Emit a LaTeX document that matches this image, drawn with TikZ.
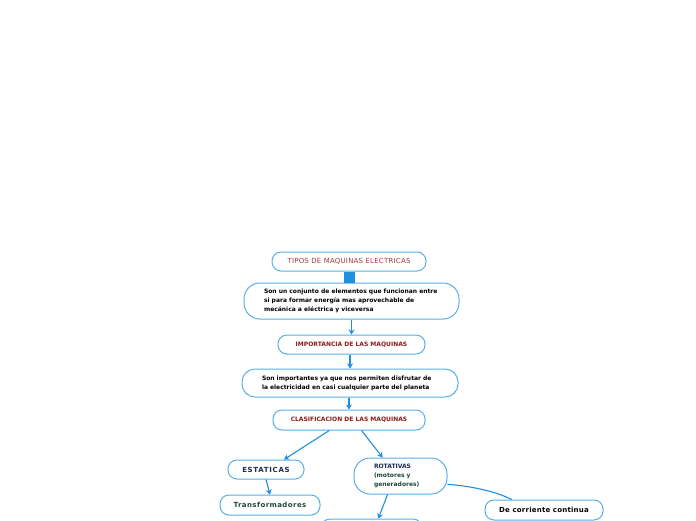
\documentclass[tikz,border=0pt]{standalone}
\usepackage{fontspec}
\setmainfont{DejaVu Sans}
\usetikzlibrary{arrows.meta}
\hyphenpenalty=10000
\exhyphenpenalty=10000
\definecolor{bordercol}{HTML}{5AAEE8}
\definecolor{linecol}{HTML}{1E90DD}
\definecolor{redtxt}{HTML}{8B1A1A}
\definecolor{browntxt}{HTML}{A83A3A}
\definecolor{navytxt}{HTML}{1C2A55}
\definecolor{greentxt}{HTML}{1E4A3A}
\tikzset{
  box/.style={draw=bordercol, line width=1pt, fill=white, rounded corners=9pt,
    inner sep=0pt, font=\fontsize{6pt}{9pt}\selectfont\bfseries, align=center},
  bigtxt/.style={font=\fontsize{7pt}{9pt}\selectfont\bfseries\addfontfeature{LetterSpace=6}},
  tallbox/.style={box, rounded corners=16pt},
  arr/.style={draw=linecol, line width=1.1pt, -{Stealth[length=5pt,width=6pt]}},
  plain/.style={draw=linecol, line width=1.1pt},
}
\begin{document}
\begin{tikzpicture}[x=1pt,y=-1pt]
\useasboundingbox (0,0) rectangle (696,520);
\node[box, minimum width=154pt, minimum height=19pt, text=browntxt,
  font=\fontsize{7pt}{9pt}\selectfont\addfontfeature{LetterSpace=3}] (tipos) at (349,261.5) {TIPOS DE MAQUINAS ELECTRICAS};
\node[tallbox, minimum width=215pt, minimum height=36pt]
  (def) at (351.5,301) {\hspace*{5pt}\parbox{180pt}{\raggedright Son un conjunto de elementos que funcionan entre si para formar energía mas aprovechable de mecánica a eléctrica y viceversa}};
\node[box, minimum width=147pt, minimum height=19pt, text=redtxt] (imp) at (351.5,344.5) {IMPORTANCIA DE LAS MAQUINAS};
\node[tallbox, minimum width=216pt, minimum height=28pt, text width=176pt, align=left, rounded corners=13pt]
  (why) at (350,383) {Son importantes ya que nos permiten disfrutar de la electricidad en casi cualquier parte del planeta};
\node[box, minimum width=152pt, minimum height=20pt, text=redtxt] (clas) at (349,420) {CLASIFICACION DE LAS MAQUINAS};
\node[box, minimum width=76pt, minimum height=19pt, text=navytxt,
  font=\fontsize{7pt}{9pt}\selectfont\bfseries\addfontfeature{LetterSpace=10}] (est) at (266,469.5) {ESTATICAS};
\node[tallbox, minimum width=93pt, minimum height=36pt, text width=53pt, align=left]
  (rot) at (400.5,476) {\textcolor{navytxt}{ROTATIVAS}\\\textcolor{greentxt}{(motores y generadores)}};
\node[box, bigtxt, minimum width=100pt, minimum height=20pt, text=greentxt] (tr) at (270,505) {Transformadores};
\node[box, minimum width=118pt, minimum height=20pt, text=black,
  font=\fontsize{7pt}{9pt}\selectfont\bfseries\addfontfeature{LetterSpace=3}] (dc) at (544,510) {De corriente continua};
\node[box, minimum width=101pt, minimum height=20pt] (alt) at (371.5,529) {};
\draw[draw=linecol, line width=11pt] (tipos.south) -- (tipos.south |- def.north);
\draw[arr] (def.south) -- (imp.north);
\draw[arr] (imp.south -| why.north) -- (why.north);
\draw[arr] (why.south -| clas.north) -- (clas.north);
\draw[arr] (clas.-152) -- (est.29);
\draw[arr] (clas.-40) -- (rot.134);
\draw[arr] (est.south) -- (tr.north);
\draw[arr] (rot.-125) -- (alt.57);
\draw[plain] (rot.-10) .. controls (470,486) and (495,491) .. (dc.162);
\end{tikzpicture}
\end{document}
